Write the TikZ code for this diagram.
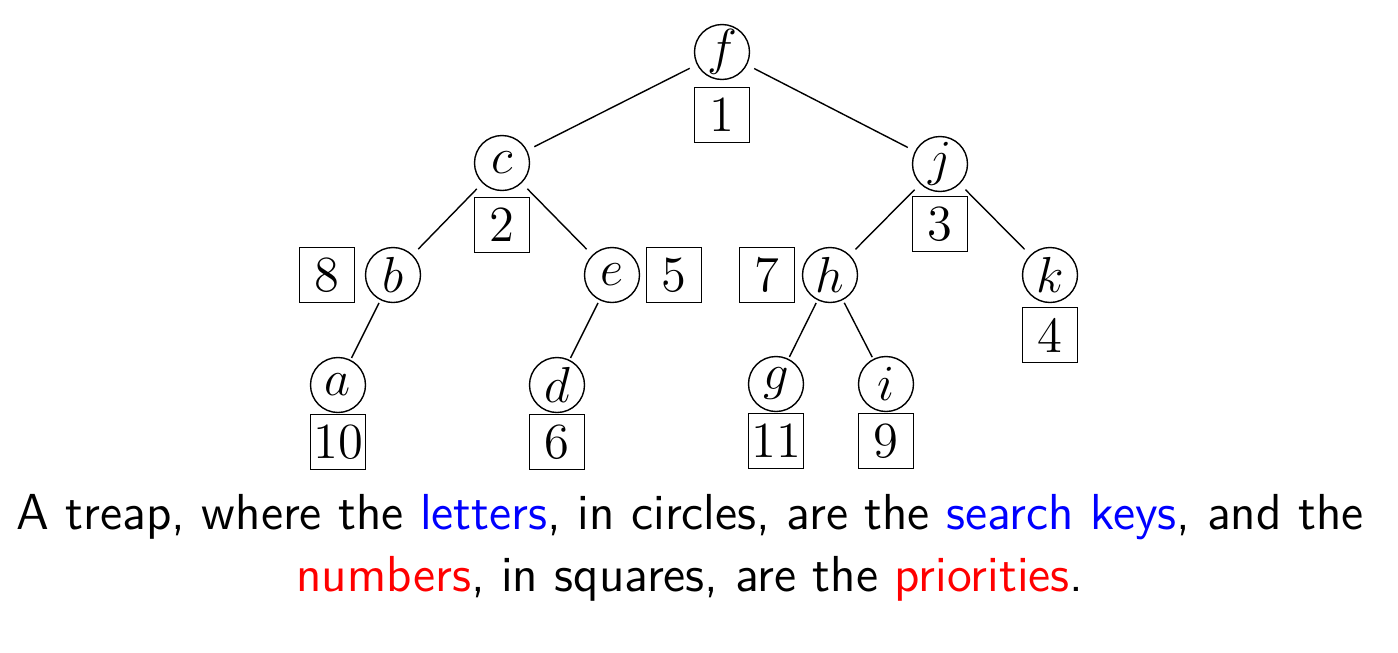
\documentclass[tikz,border=0pt]{standalone}
\usetikzlibrary{positioning}
\begin{document}
\begin{tikzpicture}[node distance={1.1cm}, on grid, key/.style = {draw, circle, minimum size=5.5mm, inner sep=0pt, font=\fontsize{14.4}{17}\selectfont}, prio/.style = {draw, rectangle, minimum size=5.5mm, inner sep=0pt, font=\fontsize{14.4}{17}\selectfont}, edge/.style = {shorten <=0.8mm, shorten >=0.8mm}, lowedge/.style = {shorten <=0.3mm, shorten >=0.2mm}]
\useasboundingbox (0,0) rectangle (13.98,-6.52);
\node[key] (f) at (7.22,-0.52) {$f$};
\node[key] (c) [below left=1.11 and 2.2 of f] {$c$};
\node[key] (j) [below right=1.12 and 2.18 of f] {$j$};
\node[key] (b) [below left=1.12 and 1.09 of c] {$b$};
\node[key] (e) [below right=1.12 and 1.1 of c] {$e$};
\node[key] (h) [below left=1.11 and 1.1 of j] {$h$};
\node[key] (k) [below right=1.11 and 1.1 of j] {$k$};
\node[key] (a) [below left=1.1 and 0.55 of b] {$a$};
\node[key] (d) [below left=1.1 and 0.55 of e] {$d$};
\node[key] (g) [below left=1.09 and 0.54 of h] {$g$};
\node[key] (i) [below right=1.09 and 0.56 of h] {$i$};
\node[prio] (pf) [below=0.63 of f] {1};
\node[prio] (pc) [below=0.62 of c] {2};
\node[prio] (pj) [below=0.6 of j] {3};
\node[prio] (pk) [below=0.6 of k] {4};
\node[prio] (pe) [right=0.62 of e] {5};
\node[prio] (pd) [below=0.57 of d] {6};
\node[prio] (ph) [left=0.63 of h] {7};
\node[prio] (pb) [left=0.66 of b] {8};
\node[prio] (pi) [below=0.57 of i] {9};
\node[prio] (pa) [below=0.57 of a] {10};
\node[prio] (pg) [below=0.57 of g] {11};
\draw[edge] (f) -- (c);
\draw[edge] (f) -- (j);
\draw[edge] (c) -- (b);
\draw[edge] (c) -- (e);
\draw[edge] (j) -- (h);
\draw[edge] (j) -- (k);
\draw[lowedge] (b) -- (a);
\draw[lowedge] (e) -- (d);
\draw[lowedge] (h) -- (g);
\draw[lowedge] (h) -- (i);
\node[align=center, font=\sffamily\fontsize{14.4}{17.5}\selectfont] (cap) at (6.9,-5.48) {A treap, where the \textcolor{blue}{letters}, in circles, are the \textcolor{blue}{search keys}, and the\\ \textcolor{red}{numbers}, in squares, are the \textcolor{red}{priorities}.};
\end{tikzpicture}
\end{document}
